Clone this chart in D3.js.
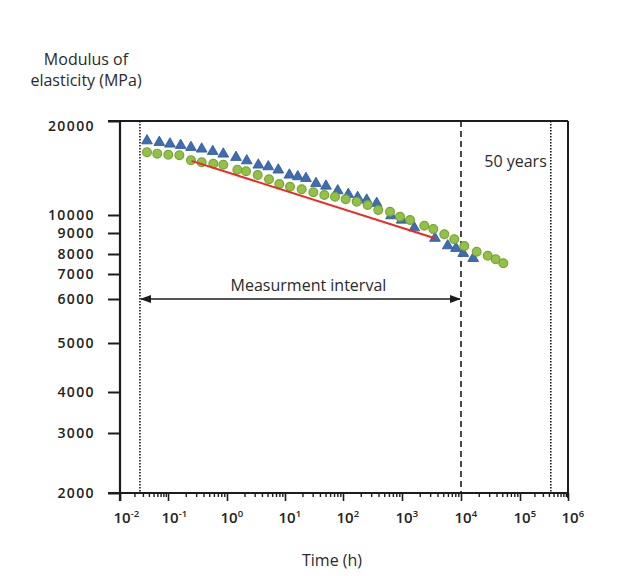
<!DOCTYPE html>
<html>
<head>
<meta charset="utf-8">
<title>Modulus of elasticity vs time</title>
<script src="https://cdnjs.cloudflare.com/ajax/libs/d3/7.8.5/d3.min.js"></script>
<style>
  body { margin: 0; background: #fff; }
  svg { font-family: "Open Sans", sans-serif; }
</style>
</head>
<body>
<svg id="chart" width="628" height="576"></svg>
<script>
// tick values of the two axes
const timeTicks = [1e-2, 1e-1, 1, 10, 100, 1e3, 1e4, 1e5, 1e6];
const modulusTicks = [2000, 3000, 4000, 5000, 6000, 7000, 8000, 9000, 10000, 20000];

// blue triangles
const triTime = [0.0365, 0.0659, 0.108, 0.164, 0.245, 0.372, 0.573, 0.865, 1.43, 2.19, 3.47, 5.15, 7.66, 11.9, 16.6, 23.0, 34.2, 50.9, 81.1, 123, 177, 252, 372, 652, 988, 1615, 3620, 5960, 8220, 10900, 16100];
const triModulus = [17290, 17090, 16880, 16720, 16470, 16270, 15990, 15680, 15300, 14920, 14460, 14280, 13940, 13430, 13270, 13100, 12630, 12380, 11960, 11650, 11390, 11170, 10900, 9960, 9710, 9280, 8740, 8380, 8260, 8030, 7770];

// green circles
const circTime = [0.0365, 0.0598, 0.101, 0.156, 0.245, 0.372, 0.586, 0.865, 1.51, 2.13, 3.38, 5.30, 7.97, 12.2, 19.4, 30.8, 47.6, 72.8, 111, 171, 262, 396, 626, 925, 1367, 2388, 3397, 5212, 7690, 11380, 18450, 28380, 38730, 52120];
const circModulus = [15880, 15720, 15600, 15530, 14970, 14750, 14600, 14490, 13970, 13800, 13430, 13010, 12570, 12320, 12090, 11820, 11590, 11440, 11230, 11030, 10770, 10370, 10240, 9900, 9710, 9390, 9210, 8940, 8690, 8370, 8100, 7910, 7720, 7520];

// red trend line
const trendTime = [0.25, 3600];
const trendModulus = [14900, 8740];

// reference lines (hours)
const measStart = 0.026;
const measEnd = 1e4;
const fiftyYears = 438000;
const arrowLevel = 6000;

// layout (the original axes are drawn by hand, so each decade/tick gets its own spot)
const pLeft = 120, pTop = 121, pRight = 568, pBottom = 493;
const xStops = [0, 48, 107, 165, 223, 282, 341, 400, 448];
const yStops = [372, 312, 271, 222, 178, 153, 133, 112, 94, 0];

const x = d3.scaleLog().domain(timeTicks).range(xStops.map(d => pLeft + d));
const y = d3.scaleLog().domain(modulusTicks).range(yStops.map(d => pTop + d));

const svg = d3.select('#chart');
const ink = '#1c1c1c';

// defs: arrowheads
const defs = svg.append('defs');
defs.append('marker').attr('id', 'arr')
  .attr('viewBox', '0 0 10 10').attr('refX', 9).attr('refY', 5)
  .attr('markerWidth', 7).attr('markerHeight', 7).attr('orient', 'auto-start-reverse')
  .append('path').attr('d', 'M0,1.5 L10,5 L0,8.5 Z').attr('fill', ink);

// reference verticals
const vline = (t, dash, w) => svg.append('line')
  .attr('x1', x(t)).attr('x2', x(t)).attr('y1', pTop).attr('y2', pBottom)
  .attr('stroke', ink).attr('stroke-width', w).attr('stroke-dasharray', dash);
vline(measStart, '1.5,1.5', 1.6);
vline(measEnd, '6,4', 1.6);
vline(fiftyYears, '1.5,1.5', 1.6);

// measurement interval arrow
svg.append('line')
  .attr('x1', x(measStart) + 1).attr('x2', x(measEnd) - 1)
  .attr('y1', y(arrowLevel)).attr('y2', y(arrowLevel))
  .attr('stroke', ink).attr('stroke-width', 1.6)
  .attr('marker-start', 'url(#arr)').attr('marker-end', 'url(#arr)');

svg.append('text').attr('x', (x(measStart) + x(measEnd)) / 2 + 8).attr('y', y(arrowLevel) - 8)
  .attr('text-anchor', 'middle').attr('font-size', 16).attr('fill', '#2a2a2a')
  .text('Measurment interval');

svg.append('text').attr('x', x(fiftyYears) - 4).attr('y', 167)
  .attr('text-anchor', 'end').attr('font-size', 16).attr('fill', '#2a2a2a')
  .text('50 years');

// data: triangles
svg.append('g').selectAll('path').data(triTime).join('path')
  .attr('d', d3.symbol(d3.symbolTriangle, 50))
  .attr('transform', (t, i) => `translate(${x(t)},${y(triModulus[i])})`)
  .attr('fill', '#3f6db3').attr('stroke', '#2c5594').attr('stroke-width', 0.8);

// data: circles
svg.append('g').selectAll('circle').data(circTime).join('circle')
  .attr('cx', t => x(t)).attr('cy', (t, i) => y(circModulus[i])).attr('r', 4.4)
  .attr('fill', '#93c148').attr('stroke', '#77a533').attr('stroke-width', 1.2);

// red trend
svg.append('line')
  .attr('x1', x(trendTime[0])).attr('y1', y(trendModulus[0]))
  .attr('x2', x(trendTime[1])).attr('y2', y(trendModulus[1]))
  .attr('stroke', '#ec2a24').attr('stroke-width', 2);

// frame top & right
svg.append('line').attr('x1', pLeft - 12).attr('x2', pRight).attr('y1', pTop).attr('y2', pTop)
  .attr('stroke', ink).attr('stroke-width', 2);
svg.append('line').attr('x1', pRight).attr('x2', pRight).attr('y1', pTop).attr('y2', pBottom + 5)
  .attr('stroke', ink).attr('stroke-width', 2);

// y axis
const yAxis = svg.append('g').attr('transform', `translate(${pLeft},0)`)
  .call(d3.axisLeft(y).tickValues(modulusTicks).tickFormat(d3.format('d')).tickSize(12).tickSizeOuter(0));
yAxis.select('.domain').attr('stroke', ink).attr('stroke-width', 2.2)
  .attr('d', `M0,${pTop}V${pBottom + 8}`);
yAxis.selectAll('.tick line').attr('stroke', ink).attr('stroke-width', 2);
yAxis.selectAll('.tick text').attr('x', -25).attr('font-size', 14).attr('font-weight', 600)
  .attr('letter-spacing', 1.4)
  .attr('fill', '#222').attr('font-family', '"Open Sans", sans-serif');
yAxis.selectAll('.tick').filter(d => d === 20000).select('text').attr('dy', '0.65em');

// x axis: minor ticks
const minor = [];
timeTicks.slice(0, -1).forEach(p => { for (let k = 2; k <= 9; k++) minor.push(p * k); });
const xMinor = svg.append('g').attr('transform', `translate(0,${pBottom})`)
  .call(d3.axisBottom(x).tickValues(minor).tickFormat('').tickSize(4).tickSizeOuter(0));
xMinor.select('.domain').remove();
xMinor.selectAll('.tick line').attr('stroke', ink).attr('stroke-width', 1.4);

// x axis: major ticks and labels
const xAxis = svg.append('g').attr('transform', `translate(0,${pBottom})`)
  .call(d3.axisBottom(x).tickValues(timeTicks).tickFormat('').tickSize(8).tickSizeOuter(0));
xAxis.select('.domain').attr('stroke', ink).attr('stroke-width', 2.2)
  .attr('d', `M${pLeft - 12},0H${pRight}`);
xAxis.selectAll('.tick line').attr('stroke', ink).attr('stroke-width', 1.6);
const lab = xAxis.selectAll('.tick').append('text')
  .attr('x', -7).attr('y', 30).attr('text-anchor', 'start')
  .attr('fill', '#222').attr('font-size', 15).attr('font-weight', 600)
  .attr('font-family', '"Open Sans", sans-serif');
lab.append('tspan').text('10');
lab.append('tspan').attr('dy', -6).attr('font-size', 9.5).text(d => Math.round(Math.log10(d)));

// axis titles
svg.append('text').attr('x', 332).attr('y', 566).attr('text-anchor', 'middle')
  .attr('font-size', 16).attr('fill', '#2a2a2a').text('Time (h)');
const yt = svg.append('text').attr('text-anchor', 'middle').attr('font-size', 16).attr('fill', '#2a2a2a');
yt.append('tspan').attr('x', 86).attr('y', 65).text('Modulus of');
yt.append('tspan').attr('x', 86).attr('y', 86).text('elasticity (MPa)');
</script>
</body>
</html>
